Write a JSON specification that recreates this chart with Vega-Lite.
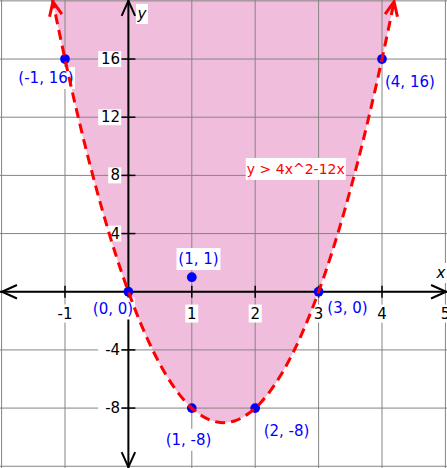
{
  "$schema": "https://vega.github.io/schema/vega-lite/v6.json",
  "width": 447,
  "height": 468,
  "autosize": {"type": "none"},
  "padding": 0,
  "background": "white",
  "config": {"view": {"stroke": null}, "axis": {"disable": true}, "text": {"font": "DejaVu Sans"}},
  "datasets": {
    "curve": [
      {"x": -1.2, "y": 20.16}, {"x": -1.1, "y": 18.04}, {"x": -1.0, "y": 16}, {"x": -0.9, "y": 14.04},
      {"x": -0.8, "y": 12.16}, {"x": -0.7, "y": 10.36}, {"x": -0.6, "y": 8.64}, {"x": -0.5, "y": 7},
      {"x": -0.4, "y": 5.44}, {"x": -0.3, "y": 3.96}, {"x": -0.2, "y": 2.56}, {"x": -0.1, "y": 1.24},
      {"x": 0, "y": 0}, {"x": 0.1, "y": -1.16}, {"x": 0.2, "y": -2.24}, {"x": 0.3, "y": -3.24},
      {"x": 0.4, "y": -4.16}, {"x": 0.5, "y": -5}, {"x": 0.6, "y": -5.76}, {"x": 0.7, "y": -6.44},
      {"x": 0.8, "y": -7.04}, {"x": 0.9, "y": -7.56}, {"x": 1.0, "y": -8}, {"x": 1.1, "y": -8.36},
      {"x": 1.2, "y": -8.64}, {"x": 1.3, "y": -8.84}, {"x": 1.4, "y": -8.96}, {"x": 1.5, "y": -9},
      {"x": 1.6, "y": -8.96}, {"x": 1.7, "y": -8.84}, {"x": 1.8, "y": -8.64}, {"x": 1.9, "y": -8.36},
      {"x": 2.0, "y": -8}, {"x": 2.1, "y": -7.56}, {"x": 2.2, "y": -7.04}, {"x": 2.3, "y": -6.44},
      {"x": 2.4, "y": -5.76}, {"x": 2.5, "y": -5}, {"x": 2.6, "y": -4.16}, {"x": 2.7, "y": -3.24},
      {"x": 2.8, "y": -2.24}, {"x": 2.9, "y": -1.16}, {"x": 3.0, "y": 0}, {"x": 3.1, "y": 1.24},
      {"x": 3.2, "y": 2.56}, {"x": 3.3, "y": 3.96}, {"x": 3.4, "y": 5.44}, {"x": 3.5, "y": 7},
      {"x": 3.6, "y": 8.64}, {"x": 3.7, "y": 10.36}, {"x": 3.8, "y": 12.16}, {"x": 3.9, "y": 14.04},
      {"x": 4.0, "y": 16}, {"x": 4.1, "y": 18.04}, {"x": 4.2, "y": 20.16}
    ],
    "gridx": [{"x": -2}, {"x": -1}, {"x": 0}, {"x": 1}, {"x": 2}, {"x": 3}, {"x": 4}, {"x": 5}],
    "gridy": [{"y": -12}, {"y": -8}, {"y": -4}, {"y": 0}, {"y": 4}, {"y": 8}, {"y": 12}, {"y": 16}, {"y": 20}],
    "yaxis": [{"x": 0}],
    "xaxis": [{"y": 0}],
    "yticks": [{"x": 0, "y": 16}, {"x": 0, "y": 12}, {"x": 0, "y": 8}, {"x": 0, "y": 4}, {"x": 0, "y": -4}, {"x": 0, "y": -8}],
    "xticks": [{"x": -1, "y": 0}, {"x": 1, "y": 0}, {"x": 2, "y": 0}, {"x": 3, "y": 0}, {"x": 4, "y": 0}],
    "axisArrows": [
      {"x": -1.994, "y": 0, "end": "left"},
      {"x": 5.01, "y": 0, "end": "right"},
      {"x": 0, "y": 20.0, "end": "top"},
      {"x": 0, "y": -12.06, "end": "bottom"}
    ],
    "curveArrows": [
      {"x": -1.19, "y": 19.94, "end": "left"},
      {"x": 4.19, "y": 19.94, "end": "right"}
    ],
    "points": [
      {"x": -1, "y": 16}, {"x": 4, "y": 16}, {"x": 0, "y": 0}, {"x": 3, "y": 0},
      {"x": 1, "y": 1}, {"x": 1, "y": -8}, {"x": 2, "y": -8}
    ],
    "labels": [
      {"x": -1, "y": -1.5, "label": "-1", "kind": "xtick"},
      {"x": 1, "y": -1.5, "label": "1", "kind": "xtick"},
      {"x": 2, "y": -1.5, "label": "2", "kind": "xtick"},
      {"x": 3, "y": -1.5, "label": "3", "kind": "xtick"},
      {"x": 4, "y": -1.5, "label": "4", "kind": "xtick"},
      {"x": 5, "y": -1.5, "label": "5", "kind": "xtick"},
      {"x": -0.13, "y": 16, "label": "16", "kind": "ytick"},
      {"x": -0.13, "y": 12, "label": "12", "kind": "ytick"},
      {"x": -0.13, "y": 8, "label": "8", "kind": "ytick"},
      {"x": -0.13, "y": 4, "label": "4", "kind": "ytick"},
      {"x": -0.13, "y": -4, "label": "-4", "kind": "ytick"},
      {"x": -0.13, "y": -8, "label": "-8", "kind": "ytick"},
      {"x": -1.30, "y": 14.7, "label": "(-1, 16)", "kind": "point"},
      {"x": 4.44, "y": 14.42, "label": "(4, 16)", "kind": "point"},
      {"x": 1.105, "y": 2.25, "label": "(1, 1)", "kind": "point"},
      {"x": -0.243, "y": -1.16, "label": "(0, 0)", "kind": "point"},
      {"x": 3.456, "y": -1.09, "label": "(3, 0)", "kind": "point"},
      {"x": 0.948, "y": -10.17, "label": "(1, -8)", "kind": "point"},
      {"x": 2.494, "y": -9.61, "label": "(2, -8)", "kind": "point"},
      {"x": 2.64, "y": 8.37, "label": "y > 4x^2-12x", "kind": "equation"},
      {"x": 4.93, "y": 1.29, "label": "x", "kind": "title"},
      {"x": 0.214, "y": 19.1, "label": "y", "kind": "title"}
    ]
  },
  "layer": [
    {
      "data": {"name": "curve"},
      "mark": {"type": "area", "color": "#F0BEDC", "clip": true, "interpolate": "monotone"},
      "encoding": {
        "x": {"field": "x", "type": "quantitative", "scale": {"domain": [-2.025, 5.025], "nice": false, "zero": false}, "axis": null},
        "y": {"field": "y", "type": "quantitative", "scale": {"domain": [-12.12, 20.06], "nice": false, "zero": false}, "axis": null},
        "y2": {"datum": 20.06}
      }
    },
    {
      "data": {"name": "gridx"},
      "mark": {"type": "rule", "color": "#848484", "strokeWidth": 1},
      "encoding": {
        "x": {"field": "x", "type": "quantitative", "scale": {"domain": [-2.025, 5.025], "nice": false, "zero": false}, "axis": null}
      }
    },
    {
      "data": {"name": "gridy"},
      "mark": {"type": "rule", "color": "#848484", "strokeWidth": 1},
      "encoding": {
        "y": {"field": "y", "type": "quantitative", "scale": {"domain": [-12.12, 20.06], "nice": false, "zero": false}, "axis": null}
      }
    },
    {
      "data": {"name": "yaxis"},
      "mark": {"type": "rule", "color": "black", "strokeWidth": 2},
      "encoding": {
        "x": {"field": "x", "type": "quantitative", "scale": {"domain": [-2.025, 5.025], "nice": false, "zero": false}, "axis": null}
      }
    },
    {
      "data": {"name": "xaxis"},
      "mark": {"type": "rule", "color": "black", "strokeWidth": 2},
      "encoding": {
        "y": {"field": "y", "type": "quantitative", "scale": {"domain": [-12.12, 20.06], "nice": false, "zero": false}, "axis": null}
      }
    },
    {
      "data": {"name": "yticks"},
      "mark": {"type": "point", "shape": "M-1,0L1,0", "size": 196, "stroke": "black", "strokeWidth": 1.5, "filled": false, "opacity": 1},
      "encoding": {
        "x": {"field": "x", "type": "quantitative", "scale": {"domain": [-2.025, 5.025], "nice": false, "zero": false}, "axis": null},
        "y": {"field": "y", "type": "quantitative", "scale": {"domain": [-12.12, 20.06], "nice": false, "zero": false}, "axis": null}
      }
    },
    {
      "data": {"name": "xticks"},
      "mark": {"type": "point", "shape": "M0,-1L0,1", "size": 144, "stroke": "black", "strokeWidth": 1.5, "filled": false, "opacity": 1},
      "encoding": {
        "x": {"field": "x", "type": "quantitative", "scale": {"domain": [-2.025, 5.025], "nice": false, "zero": false}, "axis": null},
        "y": {"field": "y", "type": "quantitative", "scale": {"domain": [-12.12, 20.06], "nice": false, "zero": false}, "axis": null}
      }
    },
    {
      "data": {"name": "axisArrows"},
      "transform": [{"filter": "datum.end == 'top'"}],
      "mark": {"type": "point", "shape": "M-0.45,1L0,0L0.45,1", "size": 900, "angle": 0, "stroke": "black", "strokeWidth": 2, "filled": false, "opacity": 1},
      "encoding": {
        "x": {"field": "x", "type": "quantitative", "scale": {"domain": [-2.025, 5.025], "nice": false, "zero": false}, "axis": null},
        "y": {"field": "y", "type": "quantitative", "scale": {"domain": [-12.12, 20.06], "nice": false, "zero": false}, "axis": null}
      }
    },
    {
      "data": {"name": "axisArrows"},
      "transform": [{"filter": "datum.end == 'right'"}],
      "mark": {"type": "point", "shape": "M-0.45,1L0,0L0.45,1", "size": 900, "angle": 90, "stroke": "black", "strokeWidth": 2, "filled": false, "opacity": 1},
      "encoding": {
        "x": {"field": "x", "type": "quantitative", "scale": {"domain": [-2.025, 5.025], "nice": false, "zero": false}, "axis": null},
        "y": {"field": "y", "type": "quantitative", "scale": {"domain": [-12.12, 20.06], "nice": false, "zero": false}, "axis": null}
      }
    },
    {
      "data": {"name": "axisArrows"},
      "transform": [{"filter": "datum.end == 'bottom'"}],
      "mark": {"type": "point", "shape": "M-0.45,1L0,0L0.45,1", "size": 900, "angle": 180, "stroke": "black", "strokeWidth": 2, "filled": false, "opacity": 1},
      "encoding": {
        "x": {"field": "x", "type": "quantitative", "scale": {"domain": [-2.025, 5.025], "nice": false, "zero": false}, "axis": null},
        "y": {"field": "y", "type": "quantitative", "scale": {"domain": [-12.12, 20.06], "nice": false, "zero": false}, "axis": null}
      }
    },
    {
      "data": {"name": "axisArrows"},
      "transform": [{"filter": "datum.end == 'left'"}],
      "mark": {"type": "point", "shape": "M-0.45,1L0,0L0.45,1", "size": 900, "angle": 270, "stroke": "black", "strokeWidth": 2, "filled": false, "opacity": 1},
      "encoding": {
        "x": {"field": "x", "type": "quantitative", "scale": {"domain": [-2.025, 5.025], "nice": false, "zero": false}, "axis": null},
        "y": {"field": "y", "type": "quantitative", "scale": {"domain": [-12.12, 20.06], "nice": false, "zero": false}, "axis": null}
      }
    },
    {
      "data": {"name": "labels"},
      "transform": [{"filter": "datum.kind == 'xtick' && length(datum.label) == 1"}],
      "mark": {"type": "rect", "color": "white", "xOffset": -6.5, "x2Offset": 6.5, "yOffset": -9, "y2Offset": 9},
      "encoding": {
        "x": {"field": "x", "type": "quantitative", "scale": {"domain": [-2.025, 5.025], "nice": false, "zero": false}, "axis": null},
        "x2": {"field": "x"},
        "y": {"field": "y", "type": "quantitative", "scale": {"domain": [-12.12, 20.06], "nice": false, "zero": false}, "axis": null},
        "y2": {"field": "y"}
      }
    },
    {
      "data": {"name": "labels"},
      "transform": [{"filter": "datum.kind == 'xtick' && length(datum.label) == 2"}],
      "mark": {"type": "rect", "color": "white", "xOffset": -10, "x2Offset": 10, "yOffset": -9, "y2Offset": 9},
      "encoding": {
        "x": {"field": "x", "type": "quantitative", "scale": {"domain": [-2.025, 5.025], "nice": false, "zero": false}, "axis": null},
        "x2": {"field": "x"},
        "y": {"field": "y", "type": "quantitative", "scale": {"domain": [-12.12, 20.06], "nice": false, "zero": false}, "axis": null},
        "y2": {"field": "y"}
      }
    },
    {
      "data": {"name": "labels"},
      "transform": [{"filter": "datum.kind == 'ytick' && length(datum.label) == 2"}],
      "mark": {"type": "rect", "color": "white", "xOffset": -22, "x2Offset": 1, "yOffset": -8, "y2Offset": 8},
      "encoding": {
        "x": {"field": "x", "type": "quantitative", "scale": {"domain": [-2.025, 5.025], "nice": false, "zero": false}, "axis": null},
        "x2": {"field": "x"},
        "y": {"field": "y", "type": "quantitative", "scale": {"domain": [-12.12, 20.06], "nice": false, "zero": false}, "axis": null},
        "y2": {"field": "y"}
      }
    },
    {
      "data": {"name": "labels"},
      "transform": [{"filter": "datum.kind == 'ytick' && length(datum.label) == 1"}],
      "mark": {"type": "rect", "color": "white", "xOffset": -12, "x2Offset": 1, "yOffset": -8, "y2Offset": 8},
      "encoding": {
        "x": {"field": "x", "type": "quantitative", "scale": {"domain": [-2.025, 5.025], "nice": false, "zero": false}, "axis": null},
        "x2": {"field": "x"},
        "y": {"field": "y", "type": "quantitative", "scale": {"domain": [-12.12, 20.06], "nice": false, "zero": false}, "axis": null},
        "y2": {"field": "y"}
      }
    },
    {
      "data": {"name": "labels"},
      "transform": [{"filter": "datum.kind == 'point' && length(datum.label) == 8"}],
      "mark": {"type": "rect", "color": "white", "xOffset": -29, "x2Offset": 29, "yOffset": -11, "y2Offset": 11},
      "encoding": {
        "x": {"field": "x", "type": "quantitative", "scale": {"domain": [-2.025, 5.025], "nice": false, "zero": false}, "axis": null},
        "x2": {"field": "x"},
        "y": {"field": "y", "type": "quantitative", "scale": {"domain": [-12.12, 20.06], "nice": false, "zero": false}, "axis": null},
        "y2": {"field": "y"}
      }
    },
    {
      "data": {"name": "labels"},
      "transform": [{"filter": "datum.kind == 'point' && length(datum.label) == 7"}],
      "mark": {"type": "rect", "color": "white", "xOffset": -25, "x2Offset": 25, "yOffset": -11, "y2Offset": 11},
      "encoding": {
        "x": {"field": "x", "type": "quantitative", "scale": {"domain": [-2.025, 5.025], "nice": false, "zero": false}, "axis": null},
        "x2": {"field": "x"},
        "y": {"field": "y", "type": "quantitative", "scale": {"domain": [-12.12, 20.06], "nice": false, "zero": false}, "axis": null},
        "y2": {"field": "y"}
      }
    },
    {
      "data": {"name": "labels"},
      "transform": [{"filter": "datum.kind == 'point' && length(datum.label) == 6"}],
      "mark": {"type": "rect", "color": "white", "xOffset": -22, "x2Offset": 22, "yOffset": -11, "y2Offset": 11},
      "encoding": {
        "x": {"field": "x", "type": "quantitative", "scale": {"domain": [-2.025, 5.025], "nice": false, "zero": false}, "axis": null},
        "x2": {"field": "x"},
        "y": {"field": "y", "type": "quantitative", "scale": {"domain": [-12.12, 20.06], "nice": false, "zero": false}, "axis": null},
        "y2": {"field": "y"}
      }
    },
    {
      "data": {"name": "labels"},
      "transform": [{"filter": "datum.kind == 'equation'"}],
      "mark": {"type": "rect", "color": "white", "xOffset": -50, "x2Offset": 50, "yOffset": -12, "y2Offset": 10},
      "encoding": {
        "x": {"field": "x", "type": "quantitative", "scale": {"domain": [-2.025, 5.025], "nice": false, "zero": false}, "axis": null},
        "x2": {"field": "x"},
        "y": {"field": "y", "type": "quantitative", "scale": {"domain": [-12.12, 20.06], "nice": false, "zero": false}, "axis": null},
        "y2": {"field": "y"}
      }
    },
    {
      "data": {"name": "labels"},
      "transform": [{"filter": "datum.kind == 'title'"}],
      "mark": {"type": "rect", "color": "white", "xOffset": -6, "x2Offset": 6, "yOffset": -10, "y2Offset": 10},
      "encoding": {
        "x": {"field": "x", "type": "quantitative", "scale": {"domain": [-2.025, 5.025], "nice": false, "zero": false}, "axis": null},
        "x2": {"field": "x"},
        "y": {"field": "y", "type": "quantitative", "scale": {"domain": [-12.12, 20.06], "nice": false, "zero": false}, "axis": null},
        "y2": {"field": "y"}
      }
    },
    {
      "data": {"name": "labels"},
      "transform": [{"filter": "datum.kind == 'xtick'"}],
      "mark": {"type": "text", "fontSize": 15, "color": "black", "align": "center", "baseline": "middle"},
      "encoding": {
        "x": {"field": "x", "type": "quantitative", "scale": {"domain": [-2.025, 5.025], "nice": false, "zero": false}, "axis": null},
        "y": {"field": "y", "type": "quantitative", "scale": {"domain": [-12.12, 20.06], "nice": false, "zero": false}, "axis": null},
        "text": {"field": "label"}
      }
    },
    {
      "data": {"name": "labels"},
      "transform": [{"filter": "datum.kind == 'ytick'"}],
      "mark": {"type": "text", "fontSize": 15, "color": "black", "align": "right", "baseline": "middle"},
      "encoding": {
        "x": {"field": "x", "type": "quantitative", "scale": {"domain": [-2.025, 5.025], "nice": false, "zero": false}, "axis": null},
        "y": {"field": "y", "type": "quantitative", "scale": {"domain": [-12.12, 20.06], "nice": false, "zero": false}, "axis": null},
        "text": {"field": "label"}
      }
    },
    {
      "data": {"name": "labels"},
      "transform": [{"filter": "datum.kind == 'point'"}],
      "mark": {"type": "text", "fontSize": 15, "color": "#0000FF", "align": "center", "baseline": "middle"},
      "encoding": {
        "x": {"field": "x", "type": "quantitative", "scale": {"domain": [-2.025, 5.025], "nice": false, "zero": false}, "axis": null},
        "y": {"field": "y", "type": "quantitative", "scale": {"domain": [-12.12, 20.06], "nice": false, "zero": false}, "axis": null},
        "text": {"field": "label"}
      }
    },
    {
      "data": {"name": "labels"},
      "transform": [{"filter": "datum.kind == 'equation'"}],
      "mark": {"type": "text", "fontSize": 14, "color": "#FF0000", "align": "center", "baseline": "middle"},
      "encoding": {
        "x": {"field": "x", "type": "quantitative", "scale": {"domain": [-2.025, 5.025], "nice": false, "zero": false}, "axis": null},
        "y": {"field": "y", "type": "quantitative", "scale": {"domain": [-12.12, 20.06], "nice": false, "zero": false}, "axis": null},
        "text": {"field": "label"}
      }
    },
    {
      "data": {"name": "labels"},
      "transform": [{"filter": "datum.kind == 'title'"}],
      "mark": {"type": "text", "fontSize": 15, "fontStyle": "italic", "color": "black", "align": "center", "baseline": "middle"},
      "encoding": {
        "x": {"field": "x", "type": "quantitative", "scale": {"domain": [-2.025, 5.025], "nice": false, "zero": false}, "axis": null},
        "y": {"field": "y", "type": "quantitative", "scale": {"domain": [-12.12, 20.06], "nice": false, "zero": false}, "axis": null},
        "text": {"field": "label"}
      }
    },
    {
      "data": {"name": "points"},
      "mark": {"type": "circle", "color": "#0000FF", "size": 95, "opacity": 1},
      "encoding": {
        "x": {"field": "x", "type": "quantitative", "scale": {"domain": [-2.025, 5.025], "nice": false, "zero": false}, "axis": null},
        "y": {"field": "y", "type": "quantitative", "scale": {"domain": [-12.12, 20.06], "nice": false, "zero": false}, "axis": null}
      }
    },
    {
      "data": {"name": "curve"},
      "mark": {"type": "line", "color": "#FF0000", "strokeWidth": 3, "strokeDash": [10, 6], "clip": true, "interpolate": "monotone"},
      "encoding": {
        "x": {"field": "x", "type": "quantitative", "scale": {"domain": [-2.025, 5.025], "nice": false, "zero": false}, "axis": null},
        "y": {"field": "y", "type": "quantitative", "scale": {"domain": [-12.12, 20.06], "nice": false, "zero": false}, "axis": null}
      }
    },
    {
      "data": {"name": "curveArrows"},
      "transform": [{"filter": "datum.end == 'left'"}],
      "mark": {"type": "point", "shape": "M-0.45,1L0,0L0.45,1", "size": 784, "angle": -11.5, "stroke": "#FF0000", "strokeWidth": 3, "filled": false, "opacity": 1},
      "encoding": {
        "x": {"field": "x", "type": "quantitative", "scale": {"domain": [-2.025, 5.025], "nice": false, "zero": false}, "axis": null},
        "y": {"field": "y", "type": "quantitative", "scale": {"domain": [-12.12, 20.06], "nice": false, "zero": false}, "axis": null}
      }
    },
    {
      "data": {"name": "curveArrows"},
      "transform": [{"filter": "datum.end == 'right'"}],
      "mark": {"type": "point", "shape": "M-0.45,1L0,0L0.45,1", "size": 784, "angle": 11.5, "stroke": "#FF0000", "strokeWidth": 3, "filled": false, "opacity": 1},
      "encoding": {
        "x": {"field": "x", "type": "quantitative", "scale": {"domain": [-2.025, 5.025], "nice": false, "zero": false}, "axis": null},
        "y": {"field": "y", "type": "quantitative", "scale": {"domain": [-12.12, 20.06], "nice": false, "zero": false}, "axis": null}
      }
    }
  ]
}
